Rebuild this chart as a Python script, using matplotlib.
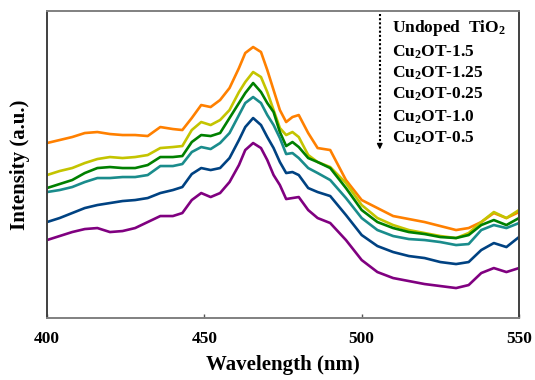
import matplotlib
matplotlib.use("Agg")
import matplotlib.pyplot as plt

plt.rcParams['font.family'] = ['Liberation Serif', 'DejaVu Serif']
plt.rcParams['font.weight'] = 'bold'
plt.rcParams['mathtext.fontset'] = 'custom'
plt.rcParams['mathtext.rm'] = 'Liberation Serif:bold'
plt.rcParams['mathtext.it'] = 'Liberation Serif:bold'
plt.rcParams['mathtext.bf'] = 'Liberation Serif:bold'

# comprimento de onda (nm)
wavelength = [400, 404, 408, 412, 416, 420, 424, 428, 432, 436, 440, 443, 446, 449,
              452, 455, 458, 461, 463, 465.5, 468, 470, 472, 474, 476, 478, 480, 483,
              486, 490, 495, 500, 505, 510, 515, 520, 525, 530, 534, 538, 542, 546, 550]

# intensidade (u.a.)
undoped = [177, 180, 183, 187, 188, 186, 185, 185, 184, 193, 191, 190, 202, 215, 213,
           220, 232, 252, 267, 273, 268, 250, 230, 210, 198, 203, 205, 187, 172, 170,
           140, 120, 112, 104, 101, 98, 94, 90, 92, 98, 107, 102, 108]
cu_15 = [145, 149, 152, 157, 161, 163, 162, 163, 165, 172, 173, 174, 190, 198, 195,
         200, 210, 228, 238, 248, 243, 228, 210, 192, 185, 188, 183, 165, 158, 153,
         137, 115, 102, 95, 90, 87, 84, 82, 87, 98, 108, 102, 110]
cu_125 = [132, 136, 140, 147, 152, 153, 152, 152, 155, 163, 163, 164, 178, 185, 184,
          187, 202, 217, 227, 237, 228, 217, 208, 188, 174, 178, 173, 162, 158, 152,
          132, 110, 98, 92, 88, 86, 83, 82, 85, 95, 100, 95, 102]
cu_025 = [128, 130, 133, 138, 142, 142, 143, 143, 145, 154, 154, 156, 168, 173, 171,
          177, 187, 205, 217, 223, 217, 205, 195, 182, 166, 167, 162, 152, 147, 140,
          122, 102, 90, 84, 81, 80, 78, 75, 76, 90, 95, 92, 97]
cu_10 = [98, 102, 107, 112, 115, 117, 119, 120, 122, 127, 130, 133, 146, 152, 150,
         152, 162, 180, 193, 202, 195, 183, 172, 158, 147, 148, 145, 132, 128, 124,
         105, 85, 74, 68, 64, 62, 58, 56, 58, 70, 77, 73, 83]
cu_05 = [80, 84, 88, 91, 92, 88, 89, 92, 98, 104, 104, 107, 120, 127, 123,
         127, 138, 155, 170, 177, 172, 160, 145, 135, 121, 122, 123, 110, 102, 97,
         80, 60, 48, 42, 39, 36, 34, 32, 35, 47, 52, 48, 52]

nomes = ['Undoped  TiO$_2$', 'Cu$_2$OT-1.5', 'Cu$_2$OT-1.25',
         'Cu$_2$OT-0.25', 'Cu$_2$OT-1.0', 'Cu$_2$OT-0.5']
series = [undoped, cu_15, cu_125, cu_025, cu_10, cu_05]
cores = ['#ff8000', '#c4c400', '#008000', '#1a8c8c', '#004282', '#800080']

fig = plt.figure(figsize=(5.35, 3.8), dpi=100)
ax = fig.add_axes([0.0879, 0.163, 0.8822, 0.808])

for dados, cor in zip(series, cores):
    ax.plot(wavelength, dados, color=cor, lw=1.9)

ax.set_xlim(400, 550)
ax.set_ylim(2, 309)
ax.set_xticks([400, 450, 500, 550])
ax.set_yticks([])
ax.tick_params(axis='x', direction='in', length=3, width=1, pad=9,
               labelsize=12.5, color='#555555')
for lab in ax.get_xticklabels():
    lab.set_fontweight('bold')

for lado, cor in [('top', '#808080'), ('bottom', '#808080'),
                  ('left', '#404040'), ('right', '#404040')]:
    ax.spines[lado].set_color(cor)
    ax.spines[lado].set_linewidth(1.4)

ax.set_xlabel('Wavelength (nm)', fontsize=15, fontweight='bold', labelpad=6)
ax.set_ylabel('Intensity (a.u.)', fontsize=15, fontweight='bold', labelpad=12)

# lista de amostras com seta pontilhada
ys = [0.945, 0.866, 0.798, 0.730, 0.655, 0.586]
for nome, y in zip(nomes, ys):
    ax.text(0.731, y, nome, transform=ax.transAxes, fontsize=12.5,
            fontweight='bold', va='center', ha='left')
ax.plot([0.705, 0.705], [0.99, 0.56], transform=ax.transAxes, color='black',
        lw=1.5, linestyle=(0, (1, 1)))
ax.annotate('', xy=(0.705, 0.54), xytext=(0.705, 0.575),
            xycoords='axes fraction', textcoords='axes fraction',
            arrowprops=dict(arrowstyle='-|>', color='black', lw=1,
                            mutation_scale=8))

fig.savefig('out.png', dpi=100)
